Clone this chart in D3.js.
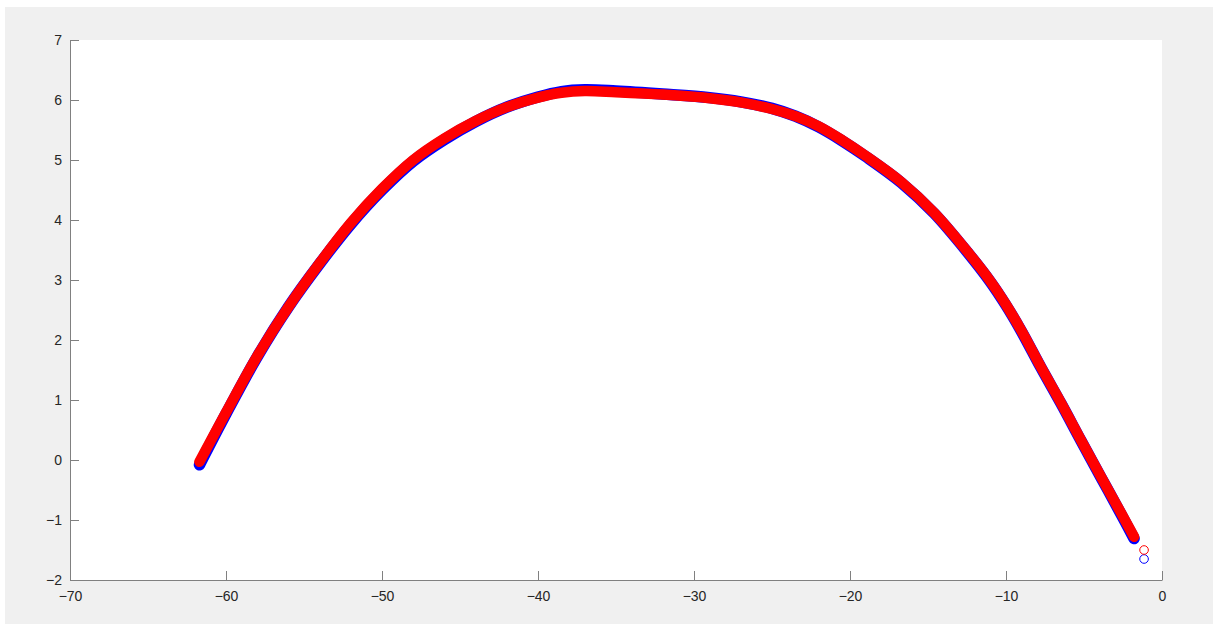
<!DOCTYPE html>
<html>
<head>
<meta charset="utf-8">
<script src="https://cdn.jsdelivr.net/npm/d3@7"></script>
<style>
  body { margin: 0; background: #ffffff; }
  svg { display: block; }
  .tick text { font-family: "Liberation Sans", Arial, sans-serif; font-size: 14px; fill: #262626; }
</style>
</head>
<body>
<script>
// values (dense run of markers, then one stray marker per series)
var xVals = [-61.7, -60.0, -58.0, -56.0, -54.0, -52.0, -50.0, -48.0, -46.0, -44.0, -42.0, -40.0,
             -38.5, -37.0, -35.0, -32.0, -29.0, -27.0, -25.0, -23.5, -22.0, -20.5, -19.0, -16.7,
             -14.6, -12.4, -11.0, -10.0, -9.0, -7.76, -6.47, -5.19, -3.91, -2.63, -1.79];
var redVals = [-0.03, 0.79, 1.73, 2.55, 3.28, 3.95, 4.52, 5.00, 5.36, 5.65, 5.88, 6.04,
               6.12, 6.15, 6.13, 6.09, 6.03, 5.96, 5.85, 5.73, 5.56, 5.33, 5.07, 4.63,
               4.12, 3.45, 2.98, 2.59, 2.15, 1.55, 0.95, 0.33, -0.28, -0.88, -1.28];
var blueVals = [-0.08, 0.77, 1.72, 2.55, 3.27, 3.93, 4.50, 4.98, 5.34, 5.64, 5.88, 6.05,
                6.14, 6.17, 6.15, 6.10, 6.04, 5.97, 5.86, 5.73, 5.55, 5.32, 5.06, 4.62,
                4.11, 3.44, 2.97, 2.58, 2.14, 1.54, 0.94, 0.32, -0.29, -0.90, -1.31];
var strayX = [-1.15];
var strayRed = [-1.5];
var strayBlue = [-1.65];

var xTicks = [-70, -60, -50, -40, -30, -20, -10, 0];
var yTicks = [-2, -1, 0, 1, 2, 3, 4, 5, 6, 7];

var W = 1213, H = 624;
var margin = {left: 70, top: 40};
var width = 1092, height = 540;

var svg = d3.select("body").append("svg")
  .attr("width", W)
  .attr("height", H);

// figure background (the photo has a thin white edge top/left)
svg.append("rect")
  .attr("x", 5).attr("y", 7)
  .attr("width", W - 5).attr("height", H - 7)
  .attr("fill", "#f0f0f0");

var g = svg.append("g")
  .attr("transform", "translate(" + margin.left + "," + margin.top + ")");

g.append("rect")
  .attr("x", 0).attr("y", 0)
  .attr("width", width).attr("height", height)
  .attr("fill", "#ffffff");

var x = d3.scaleLinear().domain([-70, 0]).range([0, width]);
var y = d3.scaleLinear().domain([-2, 7]).range([height, 0]);

var plot = g.append("g");

var line = d3.line()
  .x(function(d){ return x(d[0]); })
  .y(function(d){ return y(d[1]); })
  .curve(d3.curveCatmullRom.alpha(0.5));

var series = [
  {color: "#0000ff", vals: blueVals, stray: strayBlue, w: 11.5},
  {color: "#ff0000", vals: redVals, stray: strayRed, w: 10.5}
];

series.forEach(function(s){
  var pts = xVals.map(function(v, i){ return [v, s.vals[i]]; });

  // the markers overlap so thickly they read as a solid band
  plot.append("path")
    .datum(pts)
    .attr("d", line)
    .attr("fill", "none")
    .attr("stroke", s.color)
    .attr("stroke-width", s.w)
    .attr("stroke-linecap", "round")
    .attr("stroke-linejoin", "round");

  plot.selectAll(null)
    .data(pts.concat(strayX.map(function(v, i){ return [v, s.stray[i]]; })))
    .enter()
    .append("circle")
    .attr("cx", function(d){ return x(d[0]); })
    .attr("cy", function(d){ return y(d[1]); })
    .attr("r", 4.3)
    .attr("fill", "none")
    .attr("stroke", s.color)
    .attr("stroke-width", 1);
});

var xAxis = d3.axisBottom(x)
  .tickValues(xTicks)
  .tickSizeInner(-9)
  .tickSizeOuter(0)
  .tickPadding(11);

var yAxis = d3.axisLeft(y)
  .tickValues(yTicks)
  .tickSizeInner(-9)
  .tickSizeOuter(0)
  .tickPadding(8);

var gx = g.append("g")
  .attr("transform", "translate(0," + height + ")")
  .call(xAxis);

var gy = g.append("g")
  .call(yAxis);

[gx, gy].forEach(function(a){
  a.select(".domain").attr("stroke", "#808080");
  a.selectAll(".tick line").attr("stroke", "#808080");
});
</script>
</body>
</html>
